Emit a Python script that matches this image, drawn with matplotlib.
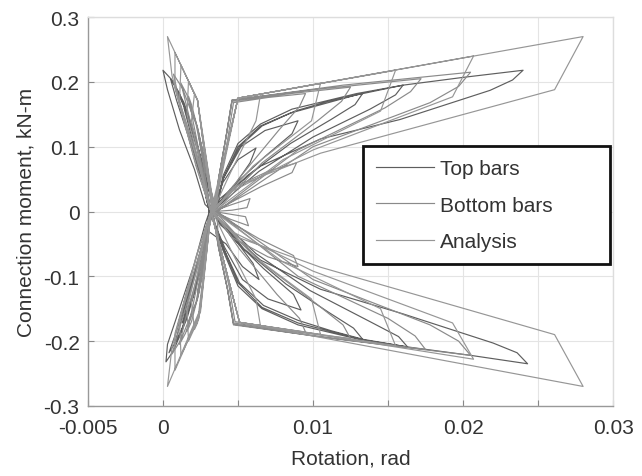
import matplotlib
matplotlib.use("Agg")
import matplotlib.pyplot as plt
import numpy as np

plt.rcParams["font.family"] = ["Liberation Sans", "DejaVu Sans"]

# (rotation rad, moment kN-m) vertices, one continuous trace per series
top_bars = [
    # cycle 1
    (0.0032, 0.000), (0.0040, 0.045), (0.0050, 0.080), (0.0062, 0.098), (0.0058, 0.075),
    (0.0046, 0.035), (0.0034, 0.005), (0.0029, 0.045), (0.0025, 0.085), (0.0022, 0.110),
    (0.0025, 0.075), (0.0030, 0.025), (0.0031, 0.000), (0.0028, -0.050), (0.0024, -0.095),
    (0.0021, -0.120), (0.0025, -0.080), (0.0030, -0.030), (0.0042, -0.050), (0.0053, -0.085),
    (0.0064, -0.105), (0.0060, -0.080), (0.0047, -0.040), (0.0034, -0.005),
    # cycle 2
    (0.0040, 0.050), (0.0052, 0.100), (0.0068, 0.125), (0.0090, 0.140), (0.0086, 0.120),
    (0.0068, 0.085), (0.0047, 0.040), (0.0034, 0.005), (0.0028, 0.055), (0.0022, 0.110),
    (0.0016, 0.150), (0.0014, 0.160), (0.0018, 0.125), (0.0025, 0.065), (0.0031, 0.005),
    (0.0028, -0.055), (0.0021, -0.120), (0.0015, -0.160), (0.0013, -0.172), (0.0018, -0.125),
    (0.0026, -0.055), (0.0032, -0.005), (0.0041, -0.055), (0.0053, -0.105), (0.0070, -0.135),
    (0.0092, -0.152), (0.0087, -0.128), (0.0067, -0.088), (0.0046, -0.040), (0.0034, -0.005),
    # cycle 3
    (0.0040, 0.050), (0.0051, 0.100), (0.0066, 0.132), (0.0088, 0.155), (0.0110, 0.170),
    (0.0133, 0.182), (0.0128, 0.165), (0.0112, 0.142), (0.0085, 0.105), (0.0056, 0.055),
    (0.0035, 0.005), (0.0028, 0.055), (0.0021, 0.120), (0.0014, 0.168), (0.0009, 0.190),
    (0.0012, 0.160), (0.0019, 0.105), (0.0027, 0.040), (0.0031, 0.000), (0.0028, -0.055),
    (0.0021, -0.125), (0.0013, -0.180), (0.0008, -0.202), (0.0012, -0.170), (0.0019, -0.110),
    (0.0027, -0.045), (0.0032, -0.005), (0.0040, -0.055), (0.0051, -0.110), (0.0067, -0.145),
    (0.0090, -0.168), (0.0112, -0.184), (0.0133, -0.197), (0.0127, -0.180), (0.0110, -0.155),
    (0.0082, -0.112), (0.0054, -0.058), (0.0035, -0.005),
    # cycle 4
    (0.0040, 0.055), (0.0050, 0.105), (0.0065, 0.135), (0.0086, 0.158), (0.0129, 0.182),
    (0.0160, 0.195), (0.0155, 0.180), (0.0138, 0.158), (0.0100, 0.115), (0.0064, 0.062),
    (0.0035, 0.005), (0.0028, 0.060), (0.0020, 0.125), (0.0011, 0.182), (0.0005, 0.205),
    (0.0009, 0.172), (0.0018, 0.108), (0.0027, 0.040), (0.0031, 0.000), (0.0027, -0.060),
    (0.0020, -0.130), (0.0011, -0.192), (0.0004, -0.218), (0.0009, -0.185), (0.0018, -0.115),
    (0.0027, -0.045), (0.0032, -0.005), (0.0040, -0.060), (0.0050, -0.115), (0.0066, -0.150),
    (0.0090, -0.175), (0.0130, -0.197), (0.0163, -0.209), (0.0157, -0.193), (0.0138, -0.170),
    (0.0098, -0.122), (0.0062, -0.065), (0.0035, -0.005),
    # cycle 5
    (0.0040, 0.050), (0.0050, 0.100), (0.0065, 0.132), (0.0085, 0.152), (0.0129, 0.180),
    (0.0160, 0.195), (0.0200, 0.207), (0.0240, 0.218), (0.0233, 0.203), (0.0218, 0.187),
    (0.0158, 0.142), (0.0105, 0.112), (0.0065, 0.070), (0.0038, 0.020), (0.0033, 0.000),
    (0.0028, 0.011), (0.0021, 0.065), (0.0011, 0.126), (0.0003, 0.188), (0.0000, 0.218),
    (0.0006, 0.203), (0.0015, 0.157), (0.0023, 0.095), (0.0029, 0.018), (0.0031, 0.000),
    (0.0028, -0.020), (0.0021, -0.080), (0.0011, -0.150), (0.0003, -0.205), (0.0002, -0.232),
    (0.0007, -0.215), (0.0016, -0.165), (0.0024, -0.100), (0.0030, -0.020), (0.0032, 0.000),
    (0.0040, -0.055), (0.0050, -0.110), (0.0066, -0.148), (0.0090, -0.172), (0.0130, -0.196),
    (0.0163, -0.209), (0.0205, -0.222), (0.0243, -0.235), (0.0236, -0.218), (0.0220, -0.203),
    (0.0160, -0.158), (0.0105, -0.120), (0.0065, -0.075), (0.0038, -0.020), (0.0033, 0.000),
]

bottom_bars = [
    # cycle 0
    (0.0033, 0.000), (0.0045, 0.010), (0.0058, 0.020), (0.0056, 0.006), (0.0046, 0.002),
    (0.0034, 0.000), (0.0045, -0.012), (0.0057, -0.022), (0.0055, -0.008), (0.0034, 0.000),
    # cycle 1
    (0.0045, 0.035), (0.0070, 0.062), (0.0089, 0.075), (0.0086, 0.060), (0.0065, 0.038),
    (0.0042, 0.010), (0.0033, 0.000), (0.0030, 0.050), (0.0026, 0.100), (0.0024, 0.115),
    (0.0027, 0.070), (0.0032, 0.000), (0.0029, -0.060), (0.0025, -0.105), (0.0023, -0.125),
    (0.0027, -0.070), (0.0033, 0.000), (0.0046, -0.040), (0.0070, -0.070), (0.0090, -0.085),
    (0.0087, -0.068), (0.0064, -0.042), (0.0042, -0.012), (0.0033, 0.000),
    # cycle 2
    (0.0038, 0.050), (0.0043, 0.110), (0.0047, 0.168), (0.0070, 0.176), (0.0095, 0.182),
    (0.0091, 0.162), (0.0077, 0.125), (0.0052, 0.055), (0.0034, 0.000), (0.0029, 0.060),
    (0.0024, 0.120), (0.0019, 0.165), (0.0017, 0.178), (0.0020, 0.140), (0.0026, 0.070),
    (0.0032, 0.000), (0.0029, -0.060), (0.0024, -0.125), (0.0019, -0.170), (0.0016, -0.185),
    (0.0020, -0.145), (0.0026, -0.075), (0.0033, 0.000), (0.0038, -0.055), (0.0044, -0.115),
    (0.0048, -0.170), (0.0070, -0.178), (0.0095, -0.186), (0.0091, -0.165), (0.0076, -0.128),
    (0.0051, -0.058), (0.0034, 0.000),
    # cycle 3
    (0.0037, 0.050), (0.0042, 0.115), (0.0046, 0.170), (0.0085, 0.182), (0.0125, 0.192),
    (0.0119, 0.170), (0.0103, 0.140), (0.0066, 0.075), (0.0035, 0.000), (0.0029, 0.065),
    (0.0023, 0.130), (0.0016, 0.180), (0.0012, 0.198), (0.0016, 0.160), (0.0024, 0.085),
    (0.0032, 0.000), (0.0029, -0.065), (0.0023, -0.135), (0.0015, -0.188), (0.0011, -0.205),
    (0.0015, -0.165), (0.0024, -0.090), (0.0033, 0.000), (0.0037, -0.055), (0.0043, -0.120),
    (0.0047, -0.172), (0.0085, -0.185), (0.0125, -0.196), (0.0120, -0.175), (0.0102, -0.142),
    (0.0065, -0.078), (0.0035, 0.000),
    # cycle 4
    (0.0037, 0.050), (0.0042, 0.115), (0.0046, 0.172), (0.0100, 0.188), (0.0172, 0.205),
    (0.0165, 0.185), (0.0148, 0.160), (0.0090, 0.095), (0.0036, 0.000), (0.0028, 0.065),
    (0.0022, 0.135), (0.0013, 0.190), (0.0007, 0.212), (0.0011, 0.170), (0.0022, 0.090),
    (0.0032, 0.000), (0.0028, -0.065), (0.0022, -0.140), (0.0012, -0.198), (0.0006, -0.220),
    (0.0011, -0.180), (0.0022, -0.095), (0.0033, 0.000), (0.0037, -0.055), (0.0043, -0.120),
    (0.0047, -0.174), (0.0100, -0.192), (0.0175, -0.213), (0.0168, -0.192), (0.0150, -0.165),
    (0.0090, -0.100), (0.0036, 0.000),
    # cycle 5
    (0.0037, 0.050), (0.0042, 0.115), (0.0046, 0.172), (0.0120, 0.195), (0.0205, 0.215),
    (0.0197, 0.193), (0.0178, 0.168), (0.0100, 0.100), (0.0036, 0.000),
    (0.0037, -0.055), (0.0043, -0.120), (0.0047, -0.175), (0.0120, -0.198), (0.0205, -0.222),
    (0.0197, -0.200), (0.0178, -0.175), (0.0100, -0.105), (0.0036, 0.000),
]

analysis = [
    # cycle 1
    (0.0032, 0.000), (0.0050, 0.175), (0.0065, 0.181), (0.0062, 0.140), (0.0045, 0.060),
    (0.0033, 0.000), (0.0023, 0.172), (0.0021, 0.182), (0.0019, 0.140), (0.0027, 0.050),
    (0.0032, 0.000), (0.0023, -0.172), (0.0021, -0.182), (0.0019, -0.140), (0.0027, -0.050),
    (0.0032, 0.000), (0.0051, -0.171), (0.0065, -0.177), (0.0062, -0.135), (0.0045, -0.058),
    (0.0033, 0.000),
    # cycle 2
    (0.0050, 0.175), (0.0105, 0.198), (0.0099, 0.140), (0.0060, 0.070), (0.0033, 0.000),
    (0.0023, 0.172), (0.0017, 0.201), (0.0016, 0.150), (0.0026, 0.055), (0.0032, 0.000),
    (0.0024, -0.165), (0.0017, -0.200), (0.0016, -0.150), (0.0026, -0.055), (0.0032, 0.000),
    (0.0051, -0.171), (0.0105, -0.190), (0.0099, -0.135), (0.0060, -0.068), (0.0033, 0.000),
    # cycle 3
    (0.0050, 0.175), (0.0155, 0.218), (0.0145, 0.155), (0.0080, 0.080), (0.0034, 0.000),
    (0.0023, 0.172), (0.0012, 0.226), (0.0011, 0.170), (0.0025, 0.060), (0.0032, 0.000),
    (0.0024, -0.162), (0.0012, -0.222), (0.0011, -0.168), (0.0025, -0.060), (0.0032, 0.000),
    (0.0051, -0.171), (0.0155, -0.207), (0.0145, -0.150), (0.0080, -0.078), (0.0034, 0.000),
    # cycle 4
    (0.0050, 0.175), (0.0207, 0.240), (0.0193, 0.177), (0.0100, 0.095), (0.0045, 0.030),
    (0.0033, 0.000), (0.0023, 0.172), (0.0008, 0.245), (0.0008, 0.190), (0.0023, 0.065),
    (0.0032, 0.000), (0.0025, -0.155), (0.0008, -0.245), (0.0008, -0.188), (0.0023, -0.065),
    (0.0032, 0.000), (0.0051, -0.171), (0.0207, -0.228), (0.0193, -0.172), (0.0100, -0.092),
    (0.0045, -0.030), (0.0033, 0.000),
    # cycle 5
    (0.0050, 0.175), (0.0280, 0.270), (0.0261, 0.188), (0.0105, 0.090), (0.0050, 0.040),
    (0.0034, 0.005), (0.0023, 0.172), (0.0003, 0.270), (0.0006, 0.210), (0.0022, 0.070),
    (0.0032, 0.000), (0.0025, -0.150), (0.0003, -0.270), (0.0006, -0.210), (0.0022, -0.070),
    (0.0032, 0.000), (0.0051, -0.171), (0.0280, -0.270), (0.0261, -0.190), (0.0105, -0.086),
    (0.0050, -0.040), (0.0034, -0.005),
]

series = [("Top bars", top_bars, "#5e5e5e"),
          ("Bottom bars", bottom_bars, "#8a8a8a"),
          ("Analysis", analysis, "#969696")]

x_ticks = [-0.005, 0, 0.005, 0.01, 0.015, 0.02, 0.025, 0.03]
x_labels = ["-0.005", "0", "", "0.01", "", "0.02", "", "0.03"]
y_ticks = [-0.3, -0.2, -0.1, 0, 0.1, 0.2, 0.3]
y_labels = ["-0.3", "-0.2", "-0.1", "0", "0.1", "0.2", "0.3"]

fig = plt.figure(figsize=(6.42, 4.77), dpi=100)
ax = fig.add_axes([0.137, 0.147, 0.818, 0.815])

for name, pts, col in series:
    arr = np.array(pts)
    ax.plot(arr[:, 0], arr[:, 1], color=col, lw=0.85, label=name)

ax.set_xlim(-0.005, 0.03)
ax.set_ylim(-0.3, 0.3)
ax.set_xticks(x_ticks)
ax.set_xticklabels(x_labels)
ax.set_yticks(y_ticks)
ax.set_yticklabels(y_labels)
ax.grid(True, color="#e4e4e4", lw=0.8)
ax.set_axisbelow(True)
ax.tick_params(direction="in", length=4, color="#888888", labelsize=15,
               labelcolor="#333333")
ax.tick_params(axis="x", pad=9)
ax.tick_params(axis="y", pad=6)
for side, sp in ax.spines.items():
    sp.set_color("#999999" if side in ("left", "bottom") else "#dddddd")
    sp.set_linewidth(1.0)

ax.set_xlabel("Rotation, rad", fontsize=15, color="#333333", labelpad=8)
ax.set_ylabel("Connection moment, kN-m", fontsize=15, color="#333333", labelpad=6)

leg = ax.legend(loc="upper left", bbox_to_anchor=(0.524, 0.36, 0.47, 0.308),
                mode="expand", borderaxespad=0, fancybox=False, fontsize=15,
                handlelength=2.75, handletextpad=0.3, labelspacing=0.83,
                borderpad=0.63, framealpha=1)
leg.get_frame().set_edgecolor("#111111")
leg.get_frame().set_linewidth(2.0)
for t in leg.get_texts():
    t.set_color("#333333")

fig.savefig("out.png", dpi=100)
